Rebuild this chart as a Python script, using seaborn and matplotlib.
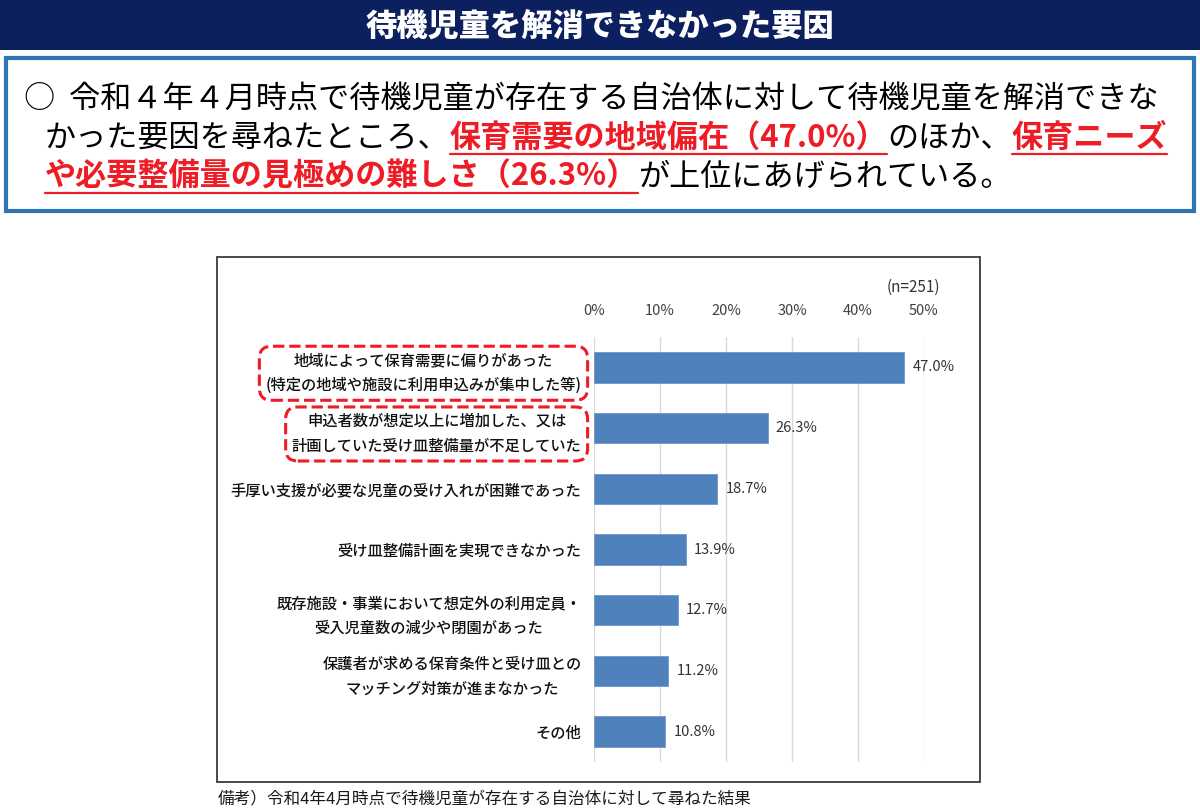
import matplotlib
matplotlib.use("Agg")
import matplotlib.pyplot as plt
from matplotlib.patches import Rectangle
from matplotlib.lines import Line2D
import pandas as pd
import seaborn as sns

# ---- data ----
categories = [
    "地域によって保育需要に偏りがあった\n(特定の地域や施設に利用申込みが集中した等)",
    "申込者数が想定以上に増加した、又は\n計画していた受け皿整備量が不足していた",
    "手厚い支援が必要な児童の受け入れが困難であった",
    "受け皿整備計画を実現できなかった",
    "既存施設・事業において想定外の利用定員・\n受入児童数の減少や閉園があった",
    "保護者が求める保育条件と受け皿との\nマッチング対策が進まなかった",
    "その他",
]
values = [47.0, 26.3, 18.7, 13.9, 12.7, 11.2, 10.8]
highlighted = [0, 1]  # labels boxed with red dashes
xticks = [0, 10, 20, 30, 40, 50]
xtick_labels = ["0%", "10%", "20%", "30%", "40%", "50%"]

title = "待機児童を解消できなかった要因"
summary_lines = [
    [("○  令和４年４月時点で待機児童が存在する自治体に対して待機児童を解消できな", False)],
    [("かった要因を尋ねたところ、", False), ("保育需要の地域偏在（47.0%）", True),
     ("のほか、", False), ("保育ニーズ", True)],
    [("や必要整備量の見極めの難しさ（26.3%）", True), ("が上位にあげられている。", False)],
]
n_label = "(n=251)"
note = "備考）令和4年4月時点で待機児童が存在する自治体に対して尋ねた結果"

W, H = 1200, 810
NAVY = "#0c1f5e"
BAR = "#4f81bd"
RED = "#ee1c25"

sns.set_style("white")
plt.rcParams["font.family"] = ["Noto Sans CJK JP", "DejaVu Sans"]

fig = plt.figure(figsize=(W / 100, H / 100), dpi=100)


def fx(px):
    return px / W


def fy(py):
    return 1 - py / H


# header band and title
fig.add_artist(Rectangle((0, fy(50)), 1, 50 / H, transform=fig.transFigure,
                         facecolor=NAVY, edgecolor="none"))
fig.text(0.5, fy(26), title, color="white", fontsize=22.5, fontweight="heavy",
         ha="center", va="center")

# summary box
fig.add_artist(Rectangle((fx(6), fy(211)), fx(1188), 153 / H, transform=fig.transFigure,
                         fill=False, edgecolor="#2e75b6", linewidth=3))

renderer = fig.canvas.get_renderer()
for line, base, x0 in zip(summary_lines, [108, 147, 186], [24, 45, 45]):
    x = x0
    for text, hl in line:
        t = fig.text(fx(x), fy(base), text, fontsize=22.4, va="baseline", ha="left",
                     color=RED if hl else "black",
                     fontweight="bold" if hl else "normal")
        bb = t.get_window_extent(renderer)
        if hl:
            fig.add_artist(Line2D([bb.x0 / W, bb.x1 / W], [fy(base + 7)] * 2,
                                  transform=fig.transFigure, color=RED, linewidth=1.6))
        x += bb.width

# chart frame
fig.add_artist(Rectangle((fx(217), fy(782)), fx(763), 525 / H, transform=fig.transFigure,
                         fill=False, edgecolor="#3a3a3a", linewidth=1.3))

# bar chart
ax = fig.add_axes([fx(594), fy(762), fx(330), 425 / H])
df = pd.DataFrame({"category": categories, "value": values})
sns.barplot(data=df, y="category", x="value", orient="h", color=BAR,
            saturation=1, width=0.5, edgecolor="#6d97cc", linewidth=0.6, ax=ax)

ax.set_xlim(0, 50)
ax.set_ylim(len(categories) - 0.5, -0.5)
ax.set_xticks(xticks)
ax.set_xticklabels(xtick_labels, fontsize=10.5, color="#404040")
ax.xaxis.tick_top()
ax.tick_params(axis="x", length=0, pad=14)
ax.tick_params(axis="y", length=0, pad=9)
ax.set_yticks(range(len(categories)))
ax.set_yticklabels(categories, fontsize=11, color="#111111", fontweight="medium",
                   multialignment="center", linespacing=1.6)
ax.set_xlabel("")
ax.set_ylabel("")
ax.grid(axis="x", color="#d9d9d9", linewidth=1)
ax.set_axisbelow(True)
for s in ax.spines.values():
    s.set_visible(False)

for i, lab in enumerate(ax.get_yticklabels()):
    if i in highlighted:
        lab.set_bbox(dict(boxstyle="round,pad=0.4,rounding_size=0.8", facecolor="none",
                          edgecolor=RED, linestyle="--", linewidth=2.2))

ax.bar_label(ax.containers[0], labels=[f"{v:.1f}%" for v in values], padding=6,
             fontsize=10.5, color="#333333")

fig.text(fx(940), fy(287), n_label, fontsize=11, color="#333333", ha="right", va="center")
fig.text(fx(218), fy(800), note, fontsize=12, color="#1a1a1a", ha="left", va="center")

fig.savefig("out.png", dpi=100)
